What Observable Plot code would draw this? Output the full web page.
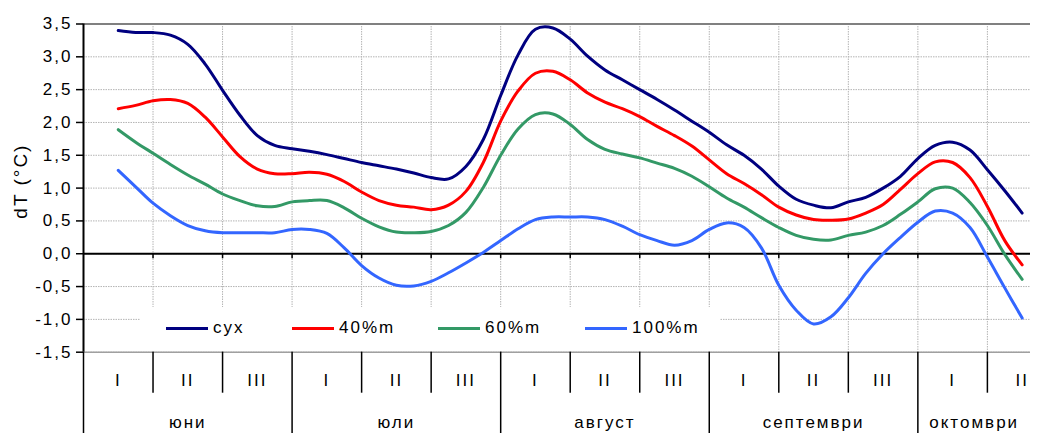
<!DOCTYPE html>
<html><head><meta charset="utf-8">
<script src="https://cdn.jsdelivr.net/npm/d3@7"></script>
<script src="https://cdn.jsdelivr.net/npm/@observablehq/plot@0.6"></script>
<style>
body{margin:0;background:#fff;}
#wrap{position:relative;width:1044px;height:433px;font-family:"Liberation Sans",Arial,sans-serif;}
#legend{position:absolute;left:140px;top:307px;width:580px;height:43px;background:#fff;}
.item{position:absolute;top:0;height:43px;}
.sw{position:absolute;top:19.5px;left:0;width:42px;height:3px;}
.lb{position:absolute;top:11px;left:47px;font-size:17px;letter-spacing:2px;line-height:20px;white-space:nowrap;color:#000;}
</style></head><body><div id="wrap"></div>
<script>
// x positions in decades (0 = start of June I decade)
const xPos = [0.5,0.75,1,1.25,1.5,1.75,2,2.25,2.5,2.75,3,3.25,3.5,3.75,4,4.25,4.5,4.75,5,5.25,5.5,5.75,6,6.25,6.5,6.75,7,7.25,7.5,7.75,8,8.25,8.5,8.75,9,9.25,9.5,9.75,10,10.25,10.5,10.75,11,11.25,11.5,11.75,12,12.25,12.5,12.75,13,13.25,13.5];
const dry = [3.40,3.37,3.37,3.33,3.19,2.89,2.49,2.11,1.80,1.65,1.60,1.56,1.51,1.45,1.39,1.34,1.29,1.23,1.16,1.14,1.33,1.74,2.41,3.03,3.42,3.44,3.27,3.01,2.80,2.65,2.50,2.35,2.19,2.02,1.85,1.66,1.50,1.29,1.03,0.83,0.74,0.70,0.79,0.86,1.00,1.18,1.45,1.65,1.70,1.58,1.28,0.96,0.62];
const m40 = [2.21,2.26,2.33,2.35,2.29,2.08,1.78,1.48,1.29,1.22,1.22,1.24,1.21,1.10,0.94,0.81,0.74,0.71,0.67,0.74,0.95,1.39,2.02,2.48,2.75,2.78,2.65,2.45,2.31,2.21,2.09,1.94,1.80,1.64,1.43,1.22,1.07,0.90,0.71,0.59,0.52,0.51,0.53,0.62,0.75,0.98,1.22,1.40,1.39,1.16,0.72,0.20,-0.17];
const m60 = [1.89,1.70,1.53,1.36,1.20,1.06,0.91,0.81,0.73,0.72,0.79,0.81,0.81,0.70,0.54,0.41,0.33,0.32,0.34,0.43,0.63,1.01,1.50,1.90,2.12,2.13,1.97,1.74,1.59,1.52,1.46,1.38,1.30,1.18,1.02,0.85,0.71,0.55,0.40,0.28,0.22,0.21,0.28,0.33,0.43,0.60,0.79,0.99,1.00,0.78,0.43,-0.01,-0.39];
const m100 = [1.27,1.02,0.77,0.58,0.43,0.35,0.32,0.32,0.32,0.32,0.37,0.37,0.31,0.09,-0.18,-0.37,-0.48,-0.49,-0.42,-0.29,-0.14,0.02,0.20,0.38,0.52,0.56,0.56,0.56,0.52,0.42,0.29,0.20,0.13,0.20,0.37,0.47,0.40,0.09,-0.48,-0.86,-1.07,-0.96,-0.67,-0.30,0.00,0.25,0.48,0.65,0.62,0.40,-0.05,-0.52,-0.98];

const seriesNames = ["сух","40%m","60%m","100%m"];
const seriesColors = ["#000080","#ff0000","#339966","#3366ff"];
const seriesValues = [dry, m40, m60, m100];

const decadeLabels = ["I","II","III","I","II","III","I","II","III","I","II","III","I","II"];
const months = ["юни","юли","август","септември","октомври"];
const monthStart = [0,3,6,9,12];
const monthEnd = [3,6,9,12,14];
const yTicks = [-1.5,-1,-0.5,0,0.5,1,1.5,2,2.5,3,3.5];
const xMax = 13.62;

const data = seriesNames.flatMap((n, k) => xPos.map((x, i) => ({x, v: seriesValues[k][i], name: n})));

const bounds = decadeLabels.map((_, i) => i).filter(i => i > 0 && i < xMax);
const decCenters = decadeLabels.map((_, i) => i + 0.5);
const decMap = new Map(decCenters.map((c, i) => [c, decadeLabels[i]]));
const monthCenters = months.map((_, i) => (monthStart[i] + Math.min(monthEnd[i], xMax)) / 2);
const monthMap = new Map(monthCenters.map((c, i) => [c, months[i]]));
const fmt = v => v.toFixed(1).replace(".", ",");

const chart = Plot.plot({
  width: 1044, height: 433,
  marginLeft: 83, marginRight: 14, marginTop: 23.5, marginBottom: 81.3,
  style: {fontFamily: "Liberation Sans, Arial, sans-serif", fontSize: "17px", letterSpacing: "2px", background: "#fff", overflow: "visible", color: "#000"},
  x: {domain: [0, xMax]},
  y: {domain: [-1.5, 3.5]},
  color: {domain: seriesNames, range: seriesColors},
  marks: [
    Plot.gridX(bounds, {stroke: "#b4b4b4", strokeOpacity: 1, strokeDasharray: "1.5,1"}),
    Plot.gridY(yTicks, {stroke: "#b4b4b4", strokeOpacity: 1, strokeDasharray: "1.5,1"}),
    Plot.ruleY([3.5], {stroke: "#808080", strokeWidth: 2}),
    Plot.ruleY([-1.5], {stroke: "#a0a0a0", strokeWidth: 1.5}),
    Plot.ruleY([0], {stroke: "#000", strokeWidth: 2}),
    Plot.ruleX(bounds, {y1: () => 0, y2: () => 0, insetBottom: -5, stroke: "#000", strokeWidth: 1.5}),
    Plot.line(data, {x: "x", y: "v", z: "name", stroke: "name", strokeWidth: 3, curve: "catmull-rom"}),
    Plot.ruleX([0], {stroke: "#000", strokeWidth: 2}),
    Plot.axisY(yTicks, {tickSize: 7, tickPadding: 4, tickFormat: fmt, label: null, strokeWidth: 1.5}),
    Plot.text(["dT (°C)"], {frameAnchor: "left", textAnchor: "middle", rotate: -90, dx: -63, dy: -7, text: d => d, fontSize: 19}),
    Plot.axisX(bounds.filter(b => !monthStart.includes(b)), {anchor: "bottom", tickSize: 41, tickFormat: () => "", label: null, strokeWidth: 1.5}),
    Plot.axisX(monthStart, {anchor: "bottom", tickSize: 81.3, tickFormat: () => "", label: null, strokeWidth: 1.5}),
    Plot.axisX(decCenters.filter(c => c < xMax), {anchor: "bottom", tickSize: 0, tickPadding: 22, tickFormat: d => decMap.get(d), label: null}),
    Plot.axisX(monthCenters, {anchor: "bottom", tickSize: 0, tickPadding: 64, tickFormat: d => monthMap.get(d), label: null})
  ]
});

const wrap = document.getElementById("wrap");
wrap.appendChild(chart);
const legend = document.createElement("div");
legend.id = "legend";
const itemLeft = [26, 152, 298, 445];
seriesNames.forEach((n, i) => {
  const it = document.createElement("div");
  it.className = "item";
  it.style.left = itemLeft[i] + "px";
  const sw = document.createElement("div");
  sw.className = "sw";
  sw.style.background = seriesColors[i];
  const lb = document.createElement("div");
  lb.className = "lb";
  lb.textContent = n;
  it.appendChild(sw); it.appendChild(lb);
  legend.appendChild(it);
});
wrap.appendChild(legend);
</script></body></html>
